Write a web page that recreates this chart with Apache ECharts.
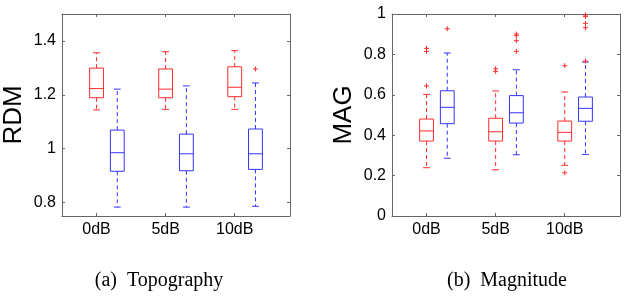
<!DOCTYPE html>
<html>
<head>
<meta charset="utf-8">
<script src="https://cdn.jsdelivr.net/npm/echarts@6/dist/echarts.min.js"></script>
<style>
  html, body { margin: 0; padding: 0; background: #fff; }
  #chart { width: 629px; height: 296px; }
</style>
</head>
<body>
<div id="chart"></div>
<script>
// categories (noise level)
const categories = ["0dB", "5dB", "10dB"];

// boxes: [low whisker, q1, median, q3, high whisker]
const rdmRed = [
  [1.144, 1.189, 1.223, 1.299, 1.356],
  [1.146, 1.189, 1.221, 1.296, 1.360],
  [1.146, 1.193, 1.228, 1.304, 1.364]
];
const rdmBlue = [
  [0.783, 0.916, 0.985, 1.069, 1.221],
  [0.783, 0.918, 0.981, 1.054, 1.233],
  [0.786, 0.923, 0.981, 1.073, 1.244]
];
// outliers: [category index, group (0 red / 1 blue), value]
const rdmOutliers = [
  [2, 1, 1.296]
];

const magRed = [
  [0.239, 0.371, 0.421, 0.480, 0.602],
  [0.229, 0.371, 0.417, 0.484, 0.619],
  [0.251, 0.371, 0.414, 0.470, 0.614]
];
const magBlue = [
  [0.286, 0.457, 0.538, 0.620, 0.807],
  [0.303, 0.460, 0.511, 0.596, 0.724],
  [0.305, 0.469, 0.533, 0.589, 0.762]
];
const magOutliers = [
  [0, 0, 0.830], [0, 0, 0.815], [0, 0, 0.644],
  [0, 1, 0.927],
  [1, 0, 0.729], [1, 0, 0.716],
  [1, 1, 0.901], [1, 1, 0.893], [1, 1, 0.868], [1, 1, 0.815],
  [2, 0, 0.744], [2, 0, 0.214],
  [2, 1, 0.995], [2, 1, 0.988], [2, 1, 0.954], [2, 1, 0.932], [2, 1, 0.767]
];

const rdmTicks = [0.8, 1.0, 1.2, 1.4];
const magTicks = [0, 0.2, 0.4, 0.6, 0.8, 1.0];

const RED = "#ff2b2b";
const BLUE = "#3434ff";
const FRAME = "#666";
const groupOffset = [0, 0.3];
const FONT = "'Liberation Sans Narrow', 'Liberation Sans', Arial, sans-serif";

const chart = echarts.init(document.getElementById("chart"));

function boxData(rows, group) {
  return rows.map((r, i) => [i + groupOffset[group]].concat(r));
}

function outlierData(rows) {
  return rows.map(r => [r[0] + groupOffset[r[1]], r[2]]);
}

function renderBox(color) {
  return function (params, api) {
    const x = api.value(0);
    const low = api.coord([x, api.value(1)]);
    const q1 = api.coord([x, api.value(2)]);
    const med = api.coord([x, api.value(3)]);
    const q3 = api.coord([x, api.value(4)]);
    const high = api.coord([x, api.value(5)]);
    const hw = api.size([0.2, 0])[0] / 2;
    const cw = hw / 2;
    const cx = low[0];
    const solid = { stroke: color, lineWidth: 1, fill: null };
    const dashed = { stroke: color, lineWidth: 1, lineDash: [4, 3], fill: null };
    return {
      type: "group",
      children: [
        { type: "rect", shape: { x: cx - hw, y: q3[1], width: hw * 2, height: q1[1] - q3[1] }, style: solid },
        { type: "line", shape: { x1: cx - hw, y1: med[1], x2: cx + hw, y2: med[1] }, style: solid },
        { type: "line", shape: { x1: cx, y1: q3[1], x2: cx, y2: high[1] }, style: dashed },
        { type: "line", shape: { x1: cx, y1: q1[1], x2: cx, y2: low[1] }, style: dashed },
        { type: "line", shape: { x1: cx - cw, y1: high[1], x2: cx + cw, y2: high[1] }, style: solid },
        { type: "line", shape: { x1: cx - cw, y1: low[1], x2: cx + cw, y2: low[1] }, style: solid }
      ]
    };
  };
}

function renderPlus(params, api) {
  const p = api.coord([api.value(0), api.value(1)]);
  const s = 2.5;
  const st = { stroke: RED, lineWidth: 1 };
  return {
    type: "group",
    children: [
      { type: "line", shape: { x1: p[0] - s, y1: p[1], x2: p[0] + s, y2: p[1] }, style: st },
      { type: "line", shape: { x1: p[0], y1: p[1] - s, x2: p[0], y2: p[1] + s }, style: st }
    ]
  };
}

function xAxes(gridIndex) {
  const base = {
    type: "value",
    gridIndex: gridIndex,
    min: -0.5,
    max: 2.8,
    splitLine: { show: false },
    axisLine: { show: true, onZero: false, lineStyle: { color: FRAME, width: 1 } },
    axisTick: { show: true, inside: true, length: 3, customValues: [0, 1, 2], lineStyle: { color: FRAME } }
  };
  return [
    Object.assign({}, base, {
      position: "bottom",
      axisLabel: {
        show: true, customValues: [0, 1, 2], margin: 6,
        color: "#000", fontSize: 16, fontFamily: FONT,
        formatter: v => categories[Math.round(v)]
      }
    }),
    Object.assign({}, base, { position: "top", axisLabel: { show: false } })
  ];
}

function yAxes(gridIndex, min, max, ticks, name) {
  const base = {
    type: "value",
    gridIndex: gridIndex,
    min: min,
    max: max,
    splitLine: { show: false },
    axisLine: { show: true, onZero: false, lineStyle: { color: FRAME, width: 1 } },
    axisTick: { show: true, inside: true, length: 3, customValues: ticks, lineStyle: { color: FRAME } }
  };
  return [
    Object.assign({}, base, {
      position: "left",
      name: name,
      nameLocation: "middle",
      nameGap: 35,
      nameTextStyle: { color: "#000", fontSize: 26, fontFamily: FONT },
      axisLabel: {
        show: true, customValues: ticks, margin: 6,
        color: "#000", fontSize: 16, fontFamily: FONT,
        formatter: v => String(parseFloat(v.toFixed(2)))
      }
    }),
    Object.assign({}, base, { position: "right", axisLabel: { show: false } })
  ];
}

const option = {
  animation: false,
  backgroundColor: "#fff",
  grid: [
    { left: 62, top: 14, width: 228, height: 202 },
    { left: 392, top: 14, width: 228, height: 202 }
  ],
  xAxis: xAxes(0).concat(xAxes(1)),
  yAxis: yAxes(0, 0.75, 1.5, rdmTicks, "RDM").concat(yAxes(1, 0, 1, magTicks, "MAG")),
  series: [
    { type: "custom", xAxisIndex: 0, yAxisIndex: 0, renderItem: renderBox(RED), data: boxData(rdmRed, 0) },
    { type: "custom", xAxisIndex: 0, yAxisIndex: 0, renderItem: renderBox(BLUE), data: boxData(rdmBlue, 1) },
    { type: "custom", xAxisIndex: 0, yAxisIndex: 0, renderItem: renderPlus, data: outlierData(rdmOutliers) },
    { type: "custom", xAxisIndex: 2, yAxisIndex: 2, renderItem: renderBox(RED), data: boxData(magRed, 0) },
    { type: "custom", xAxisIndex: 2, yAxisIndex: 2, renderItem: renderBox(BLUE), data: boxData(magBlue, 1) },
    { type: "custom", xAxisIndex: 2, yAxisIndex: 2, renderItem: renderPlus, data: outlierData(magOutliers) }
  ],
  graphic: [
    {
      type: "text", x: 159, y: 281,
      style: {
        text: "(a)  Topography", fill: "#000", fontSize: 20,
        fontFamily: "'Liberation Serif', 'Times New Roman', serif",
        align: "center", verticalAlign: "middle"
      }
    },
    {
      type: "text", x: 507, y: 281,
      style: {
        text: "(b)  Magnitude", fill: "#000", fontSize: 20,
        fontFamily: "'Liberation Serif', 'Times New Roman', serif",
        align: "center", verticalAlign: "middle"
      }
    }
  ]
};

chart.setOption(option);
</script>
</body>
</html>
